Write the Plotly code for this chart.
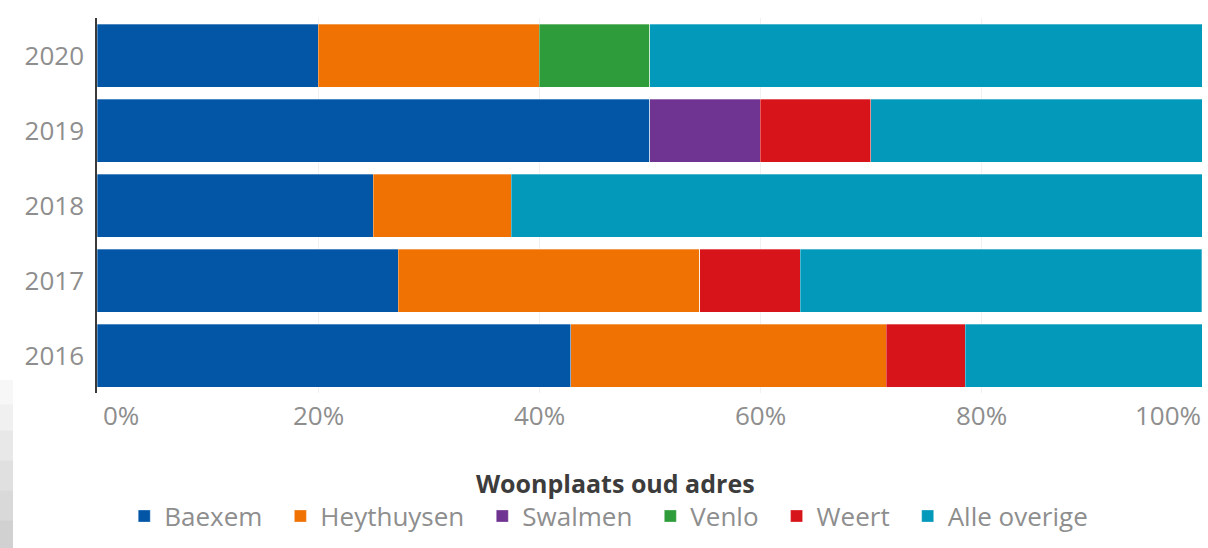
import plotly.graph_objects as go

# Verhuizingen per jaar, naar woonplaats van het oude adres (aandeel in %)
years = ["2016", "2017", "2018", "2019", "2020"]
baexem = [42.86, 27.27, 25.0, 50.0, 20.0]
heythuysen = [28.57, 27.27, 12.5, 0.0, 20.0]
swalmen = [0.0, 0.0, 0.0, 10.0, 0.0]
venlo = [0.0, 0.0, 0.0, 0.0, 10.0]
weert = [7.14, 9.09, 0.0, 10.0, 0.0]
alle_overige = [21.43, 36.36, 62.5, 30.0, 50.0]

x_ticks = [0, 20, 40, 60, 80, 100]
x_tick_labels = ["0%", "20%", "40%", "60%", "80%", "100%"]

series = [
    ("Baexem", baexem, "#0356a6"),
    ("Heythuysen", heythuysen, "#ef7203"),
    ("Swalmen", swalmen, "#6f3391"),
    ("Venlo", venlo, "#2e9c3a"),
    ("Weert", weert, "#d7141a"),
    ("Alle overige", alle_overige, "#0299bb"),
]

FONT = "Open Sans"
GREY = "#8e8e8e"
PAD = "\u2002"  # extra room after each legend entry

fig = go.Figure()
for name, values, color in series:
    fig.add_trace(go.Bar(
        name=name + PAD,
        y=years,
        x=values,
        orientation="h",
        marker=dict(color=color, line=dict(color="rgba(255,255,255,0.5)", width=0.6)),
        hovertemplate="%{y}: %{x:.1f}%<extra>" + name + "</extra>",
    ))

# x-axis labels: first one left-aligned, last one right-aligned
annotations = []
for i, (v, t) in enumerate(zip(x_ticks, x_tick_labels)):
    if i == 0:
        anchor, shift = "left", 4
    elif i == len(x_ticks) - 1:
        anchor, shift = "right", 1
    else:
        anchor, shift = "center", 0
    annotations.append(dict(
        x=v, y=0, xref="x", yref="paper", text=t, showarrow=False,
        xanchor=anchor, yanchor="middle", xshift=shift, yshift=-22,
        font=dict(family=FONT, size=26, color=GREY),
    ))

# soft grey strip along the lower left edge of the page
strip = []
bands = [(0.035, -0.03, 0.03), (-0.03, -0.1, 0.06), (-0.1, -0.18, 0.09),
         (-0.18, -0.26, 0.12), (-0.26, -0.34, 0.15), (-0.34, -0.42, 0.18)]
for y0, y1, op in bands:
    strip.append(dict(
        type="rect", xref="paper", yref="paper",
        x0=-97 / 1105, x1=-84 / 1105, y0=y0, y1=y1,
        fillcolor="black", opacity=op, line=dict(width=0), layer="above",
    ))

fig.update_layout(
    width=1208,
    height=548,
    barmode="stack",
    bargap=0.16,
    paper_bgcolor="white",
    plot_bgcolor="white",
    margin=dict(l=97, r=6, t=18, b=155, autoexpand=False),
    font=dict(family=FONT, size=26, color=GREY),
    xaxis=dict(
        range=[0, 100],
        tickvals=x_ticks,
        showticklabels=False,
        showgrid=True,
        gridcolor="#f1f1f1",
        gridwidth=1,
        zeroline=False,
        showline=False,
        fixedrange=True,
    ),
    yaxis=dict(
        type="category",
        showline=True,
        linecolor="#3a3a3a",
        linewidth=1.5,
        showgrid=False,
        ticks="",
        ticklabelstandoff=6,
        tickfont=dict(family=FONT, size=26, color=GREY),
        fixedrange=True,
    ),
    legend=dict(
        orientation="h",
        x=0.469,
        xanchor="center",
        y=-0.179,
        yanchor="top",
        title=dict(
            text="<b>Woonplaats oud adres</b>",
            side="top center",
            font=dict(family=FONT, size=25, color="#3c3c3c"),
        ),
        font=dict(family=FONT, size=26, color=GREY),
        traceorder="normal",
        itemclick=False,
        itemdoubleclick=False,
    ),
    annotations=annotations,
    shapes=strip,
)

fig.write_html("out.html")
